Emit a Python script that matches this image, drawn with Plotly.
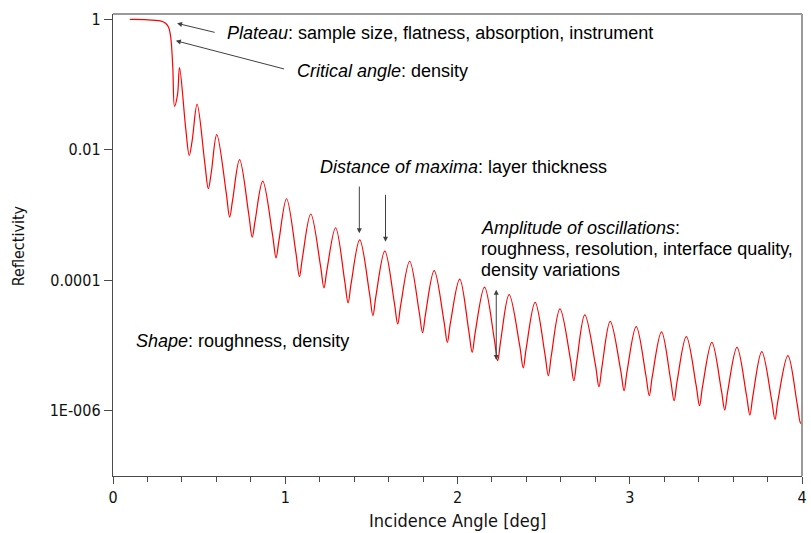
import plotly.graph_objects as go

# Incidence angle [deg] (plateau, critical edge, fringe peaks/troughs and trough flanks)
angle_deg = [
    0.097, 0.187, 0.274, 0.303, 0.322, 0.335, 0.347,
    0.3573, 0.3746, 0.3862,
    0.4225, 0.4427, 0.4600, 0.4882,
    0.5331, 0.5533, 0.5706, 0.6023,
    0.6570, 0.6772, 0.6945, 0.7349,
    0.7879, 0.8081, 0.8254, 0.8692,
    0.9262, 0.9464, 0.9637, 1.0075,
    1.0622, 1.0824, 1.0997, 1.1481,
    1.2046, 1.2248, 1.2421, 1.2922,
    1.3446, 1.3648, 1.3821, 1.4323,
    1.4887, 1.5089, 1.5262, 1.5781,
    1.6328, 1.6530, 1.6703, 1.7222,
    1.7769, 1.7971, 1.8144, 1.8646,
    1.9210, 1.9412, 1.9585, 2.0127,
    2.0651, 2.0853, 2.1026, 2.1568,
    2.2132, 2.2334, 2.2507, 2.2997,
    2.3614, 2.3816, 2.3989, 2.4507,
    2.5072, 2.5274, 2.5447, 2.5948,
    2.6553, 2.6755, 2.6928, 2.7389,
    2.8011, 2.8213, 2.8386, 2.8865,
    2.9469, 2.9671, 2.9844, 3.0375,
    3.0933, 3.1135, 3.1308, 3.1844,
    3.2374, 3.2576, 3.2749, 3.3285,
    3.3850, 3.4052, 3.4225, 3.4767,
    3.5314, 3.5516, 3.5689, 3.6225,
    3.6772, 3.6974, 3.7147, 3.7666,
    3.8230, 3.8432, 3.8605, 3.9182,
    3.9712, 3.9914, 4.0000,
]

# log10(reflectivity) at the same points
refl_log10 = [
    -0.004, -0.007, -0.026, -0.057, -0.118, -0.272, -0.732,
    -1.335, -1.157, -0.741,
    -1.683, -2.087, -1.852, -1.304,
    -2.210, -2.598, -2.349, -1.768,
    -2.654, -3.034, -2.770, -2.153,
    -2.985, -3.341, -3.083, -2.481,
    -3.304, -3.657, -3.385, -2.751,
    -3.586, -3.944, -3.656, -2.985,
    -3.777, -4.117, -3.841, -3.196,
    -4.002, -4.347, -4.057, -3.380,
    -4.193, -4.542, -4.246, -3.555,
    -4.335, -4.670, -4.382, -3.709,
    -4.475, -4.803, -4.518, -3.852,
    -4.622, -4.952, -4.661, -3.982,
    -4.768, -5.105, -4.805, -4.105,
    -4.895, -5.233, -4.929, -4.220,
    -5.007, -5.345, -5.043, -4.338,
    -5.125, -5.463, -5.156, -4.439,
    -5.210, -5.540, -5.237, -4.531,
    -5.302, -5.632, -5.331, -4.630,
    -5.374, -5.693, -5.398, -4.711,
    -5.452, -5.770, -5.477, -4.792,
    -5.530, -5.846, -5.551, -4.864,
    -5.605, -5.923, -5.632, -4.952,
    -5.678, -5.989, -5.701, -5.029,
    -5.755, -6.066, -5.775, -5.095,
    -5.822, -6.133, -5.840, -5.156,
    -5.883, -6.195, -6.100,
]
reflectivity = [10 ** v for v in refl_log10]

x_tick_vals = [0, 1, 2, 3, 4]
x_tick_text = ["0", "1", "2", "3", "4"]
y_tick_vals = [1, 0.01, 0.0001, 0.000001]
y_tick_text = ["1", "0.01", "0.0001", "1E-006"]

AX = "#4a4a4a"
FAM = "DejaVu Sans Condensed, DejaVu Sans, sans-serif"
TICK_FONT = dict(family=FAM, size=16, color="#111")
ANN_FONT = dict(family="Liberation Sans, Arial, sans-serif", size=18, color="#000")
ARROW = "#404040"

fig = go.Figure()
fig.add_trace(go.Scatter(
    x=angle_deg, y=reflectivity, mode="lines",
    line=dict(color="#ff0000", width=1.2, shape="spline", smoothing=1.0),
    hoverinfo="skip",
))

fig.update_layout(
    width=811, height=533, autosize=False,
    margin=dict(l=113, r=4, t=14, b=57, pad=0),
    plot_bgcolor="white", paper_bgcolor="white",
    showlegend=False,
)
fig.update_xaxes(
    range=[0, 4], showgrid=False, zeroline=False,
    showline=True, linecolor=AX, linewidth=1.2,
    tickmode="array", tickvals=x_tick_vals, ticktext=x_tick_text,
    ticks="outside", ticklen=7, tickcolor=AX, tickwidth=1,
    tickfont=TICK_FONT, ticklabeloverflow="allow",
    minor=dict(dtick=0.2, ticks="outside", ticklen=5, tickcolor=AX, tickwidth=1, showgrid=False),
)
fig.update_yaxes(
    type="log", range=[-7, 0.08], showgrid=False, zeroline=False,
    showline=True, linecolor=AX, linewidth=1.2,
    tickmode="array", tickvals=y_tick_vals, ticktext=y_tick_text,
    ticks="outside", ticklen=8, tickcolor=AX, tickwidth=1,
    tickfont=TICK_FONT,
)

# top / right frame
fig.add_shape(type="line", xref="paper", yref="paper", x0=0, x1=1, y0=1, y1=1,
              line=dict(color="#9a9a9a", width=2))
fig.add_shape(type="line", xref="paper", yref="paper", x0=1, x1=1, y0=0, y1=1,
              line=dict(color="#9a9a9a", width=2))

# axis titles
fig.add_annotation(text="Reflectivity", xref="paper", yref="paper", x=-0.136, y=0.498,
                   textangle=-90, showarrow=False, font=dict(family=FAM, size=16, color="#111"),
                   xanchor="center", yanchor="middle")
fig.add_annotation(text="Incidence Angle [deg]", xref="paper", yref="paper", x=0.5, y=-0.0974,
                   showarrow=False, font=dict(family=FAM, size=18, color="#111"),
                   xanchor="center", yanchor="middle")

# text annotations (left edge, vertical centre in paper coordinates)
texts = [
    ("<i>Plateau</i>: sample size, flatness, absorption, instrument", 0.1632, 0.9589),
    ("<i>Critical angle</i>: density", 0.264, 0.8766),
    ("<i>Distance of maxima</i>: layer thickness", 0.2972, 0.6688),
    ("<i>Amplitude of oscillations</i>:", 0.5305, 0.5368),
    ("roughness, resolution, interface quality,", 0.5305, 0.4913),
    ("density variations", 0.5305, 0.4459),
    ("<i>Shape</i>: roughness, density", 0.0307, 0.2922),
]
for t, xp, yp in texts:
    fig.add_annotation(text=t, xref="paper", yref="paper", x=xp, y=yp, showarrow=False,
                       font=ANN_FONT, xanchor="left", yanchor="middle", align="left")

# arrows (tip, tail) in data coordinates (x in deg, y as log10)
arrows = [
    (0.372, -0.063, 0.599, -0.207, "end"),
    (0.365, -0.330, 1.002, -0.768, "end"),
    (1.430, -3.281, 1.430, -2.541, "end"),
    (1.582, -3.410, 1.582, -2.668, "end"),
    (2.225, -5.223, 2.225, -4.124, "end+start"),
]
for x, y, ax, ay, side in arrows:
    fig.add_annotation(text="", x=x, y=y, ax=ax, ay=ay, xref="x", yref="y",
                       axref="x", ayref="y", showarrow=True, arrowhead=2, arrowsize=1,
                       arrowwidth=1, arrowcolor=ARROW, arrowside=side, standoff=0, startstandoff=0)

fig.write_html(
    "out.html",
    config={"displayModeBar": False, "staticPlot": True},
    post_script="document.body.style.margin='0';document.body.style.overflow='hidden';",
)
